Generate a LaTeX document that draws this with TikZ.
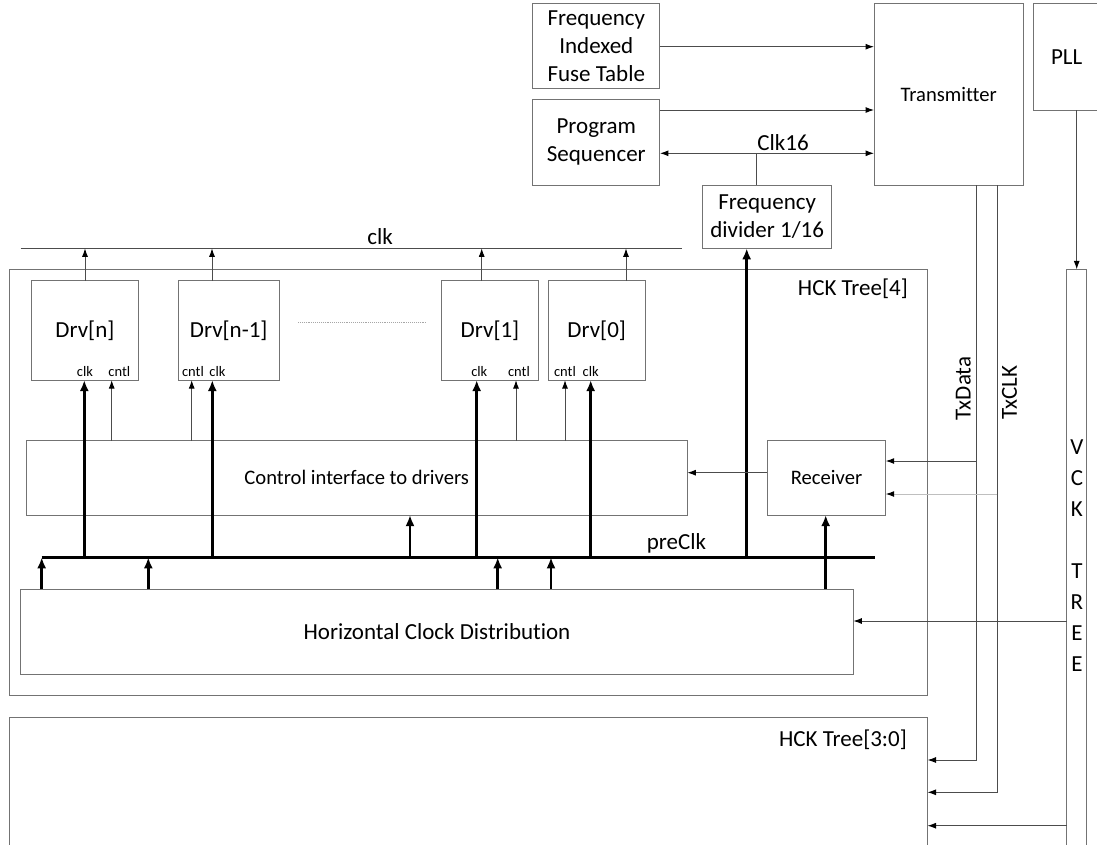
\documentclass[tikz,border=0pt]{standalone}
\usepackage{fontspec}
\setmainfont{Carlito}[Ligatures=NoCommon]
\usetikzlibrary{arrows.meta,calc}
\begin{document}
\begin{tikzpicture}[x=1pt,y=-1pt,
  box/.style={draw=black!55, line width=1pt, inner sep=0pt, outer sep=0pt, align=center, font=\fontsize{23}{28}\selectfont},
  smallbox/.style={box, font=\fontsize{20.6}{25}\selectfont},
  conn/.style={draw=black!70, line width=1pt},
  thinarrow/.style={conn, -{Latex[length=8.5pt,width=6pt,color=black]}},
  fatline/.style={draw=black, line width=2.8pt},
  fatarrow/.style={fatline, -{Latex[length=11pt,width=9pt]}},
  lbl/.style={font=\fontsize{23}{28}\selectfont, inner sep=0pt},
  tiny/.style={font=\fontsize{14.5}{16}\selectfont, inner sep=0pt},
]
\useasboundingbox (0,0) rectangle (1097,844);

% ---------- top blocks ----------
\node[box, minimum width=127.3pt, minimum height=85pt] (fuse) at (596.3,45.8) {Frequency\\Indexed\\Fuse Table};
\node[box, minimum width=127.3pt, minimum height=85.7pt] (seq) at (596.3,142.2) {Program\\Sequencer};
\node[smallbox, minimum width=149.3pt, minimum height=181.7pt] (tx) at (948.7,94.2) {Transmitter};
\node[box, minimum width=66.7pt, minimum height=106.7pt] (pll) at (1066.7,56.7) {PLL};
\node[box, minimum width=129pt, minimum height=63.3pt] (div) at (767.2,216.7) {Frequency\\divider 1/16};

% ---------- tree boxes ----------
\node[box, minimum width=918.2pt, minimum height=426.4pt] (hck4) at (468.4,482.5) {};
\node[box, minimum width=918.2pt, minimum height=152.3pt] (hck30) at (468.4,793.9) {};
\node[box, minimum width=20pt, minimum height=600.6pt] (vck) at (1076.7,569.7) {};
\node[lbl, anchor=east] (hck4lbl) at (908,289) {HCK Tree[4]};
\node[lbl, anchor=east] (hck30lbl) at (907,740) {HCK Tree[3:0]};
\node[lbl, align=center, font=\fontsize{23}{31}\selectfont] (vcklbl) at (1076.9,556) {V\\C\\K\\[31pt]T\\R\\E\\E};

% ---------- drivers ----------
\node[box, minimum width=106.3pt, minimum height=99.3pt] (drvn) at (84.9,330.4) {Drv[n]};
\node[box, minimum width=101.3pt, minimum height=99.3pt] (drvm) at (228.7,330.4) {Drv[n-1]};
\node[box, minimum width=96.6pt, minimum height=99.3pt] (drv1) at (490,330.4) {Drv[1]};
\node[box, minimum width=96.7pt, minimum height=99.3pt] (drv0) at (596.7,330.4) {Drv[0]};

\node[tiny] (lnclk) at (85,371.7) {clk};
\node[tiny] (lncntl) at (119.3,371.7) {cntl};
\node[tiny] (lmcntl) at (193,371.7) {cntl};
\node[tiny] (lmclk) at (217.5,371.7) {clk};
\node[tiny] (l1clk) at (479.3,371.7) {clk};
\node[tiny] (l1cntl) at (519,371.7) {cntl};
\node[tiny] (l0cntl) at (565,371.7) {cntl};
\node[tiny] (l0clk) at (590.7,371.7) {clk};

\coordinate (dotA) at (298,322.7);
\coordinate (dotB) at (426,322.7);
\draw[black!35, line width=0.9pt, densely dotted] (dotA) -- (dotB);

% ---------- middle blocks ----------
\node[smallbox, minimum width=661.3pt, minimum height=74.3pt] (ctrl) at (356.7,477.9) {Control interface to drivers};
\node[smallbox, minimum width=118.4pt, minimum height=74.3pt] (rx) at (826.5,477.9) {Receiver};
\node[box, minimum width=832.6pt, minimum height=85pt] (hcd) at (437,631.8) {Horizontal Clock Distribution};

% ---------- clk line ----------
\coordinate (clkL) at (20.7,248.3);
\coordinate (clkR) at (682.3,248.3);
\draw[conn] (clkL) -- (clkR);
\node[lbl] (clklbl) at (380,237) {clk};
\draw[thinarrow] (drvn.north -| 85,0) -- (clkL -| 85,0);
\draw[thinarrow] (drvm.north -| 212,0) -- (clkL -| 212,0);
\draw[thinarrow] (drv1.north -| 481.7,0) -- (clkL -| 481.7,0);
\draw[thinarrow] (drv0.north -| 626,0) -- (clkL -| 626,0);

% ---------- top connectors ----------
\draw[thinarrow] (fuse.east |- 0,46.7) -- (tx.west |- 0,46.7);
\draw[thinarrow] (seq.east |- 0,110) -- (tx.west |- 0,110);
\coordinate (c16) at (756.7,153.3);
\draw[thinarrow] (c16) -- (seq.east |- c16);
\draw[thinarrow] (c16) -- (tx.west |- c16);
\draw[conn] (div.north -| c16) -- (c16);
\node[lbl] (c16lbl) at (783,143) {Clk16};

% ---------- preClk bus ----------
\coordinate (busL) at (41.7,557.3);
\coordinate (busR) at (875,557.3);
\draw[fatline] (busL) -- (busR);
\node[lbl] (prelbl) at (676.5,543) {preClk};

\draw[fatarrow] (busL -| 84.3,0) -- (drvn.south -| 84.3,0);
\draw[fatarrow] (busL -| 212.3,0) -- (drvm.south -| 212.3,0);
\draw[fatarrow] (busL -| 476.7,0) -- (drv1.south -| 476.7,0);
\draw[fatarrow] (busL -| 590.7,0) -- (drv0.south -| 590.7,0);
\draw[fatarrow] (busL -| 746.7,0) -- (div.south -| 746.7,0);
\draw[fatarrow] (busL -| 410,0) -- (ctrl.south -| 410,0);

\draw[thinarrow] (ctrl.north -| 111.7,0) -- (drvn.south -| 111.7,0);
\draw[thinarrow] (ctrl.north -| 191.7,0) -- (drvm.south -| 191.7,0);
\draw[thinarrow] (ctrl.north -| 516,0) -- (drv1.south -| 516,0);
\draw[thinarrow] (ctrl.north -| 565,0) -- (drv0.south -| 565,0);

\draw[fatarrow] (hcd.north -| 41.7,0) -- (busL);
\draw[fatarrow] (hcd.north -| 148.3,0) -- (busL -| 148.3,0);
\draw[fatarrow] (hcd.north -| 497.7,0) -- (busL -| 497.7,0);
\draw[fatarrow] (hcd.north -| 551,0) -- (busL -| 551,0);
\draw[fatarrow] (hcd.north -| 825.7,0) -- (rx.south -| 825.7,0);

\draw[thinarrow] (rx.west |- 0,472.7) -- (ctrl.east |- 0,472.7);

% ---------- transmitter outputs ----------
\coordinate (txdTop) at (tx.south -| 976.3,0);
\coordinate (txdRx) at (976.3,461);
\coordinate (txdEnd) at (976.3,760);
\coordinate (txcTop) at (tx.south -| 997.3,0);
\coordinate (txcRx) at (997.3,494);
\coordinate (txcEnd) at (997.3,792.3);
\draw[thinarrow] (txdTop) -- (txdEnd) -- (hck30.east |- txdEnd);
\draw[thinarrow] (txdRx) -- (rx.east |- txdRx);
\draw[thinarrow] (txcTop) -- (txcEnd) -- (hck30.east |- txcEnd);
\draw[conn, draw=black!25, -{Latex[length=8.5pt,width=6pt,color=black]}] (txcRx) -- (rx.east |- txcRx);
\node[lbl, rotate=90] (txdlbl) at (963.3,388.5) {TxData};
\node[lbl, rotate=90] (txclbl) at (1009.5,392.5) {TxCLK};

% ---------- PLL / VCK ----------
\draw[thinarrow] (pll.south -| vck.north) -- (vck.north);
\draw[thinarrow] (vck.west |- 0,621) -- (hcd.east |- 0,621);
\draw[thinarrow] (vck.west |- 0,825.7) -- (hck30.east |- 0,825.7);
\end{tikzpicture}
\end{document}
